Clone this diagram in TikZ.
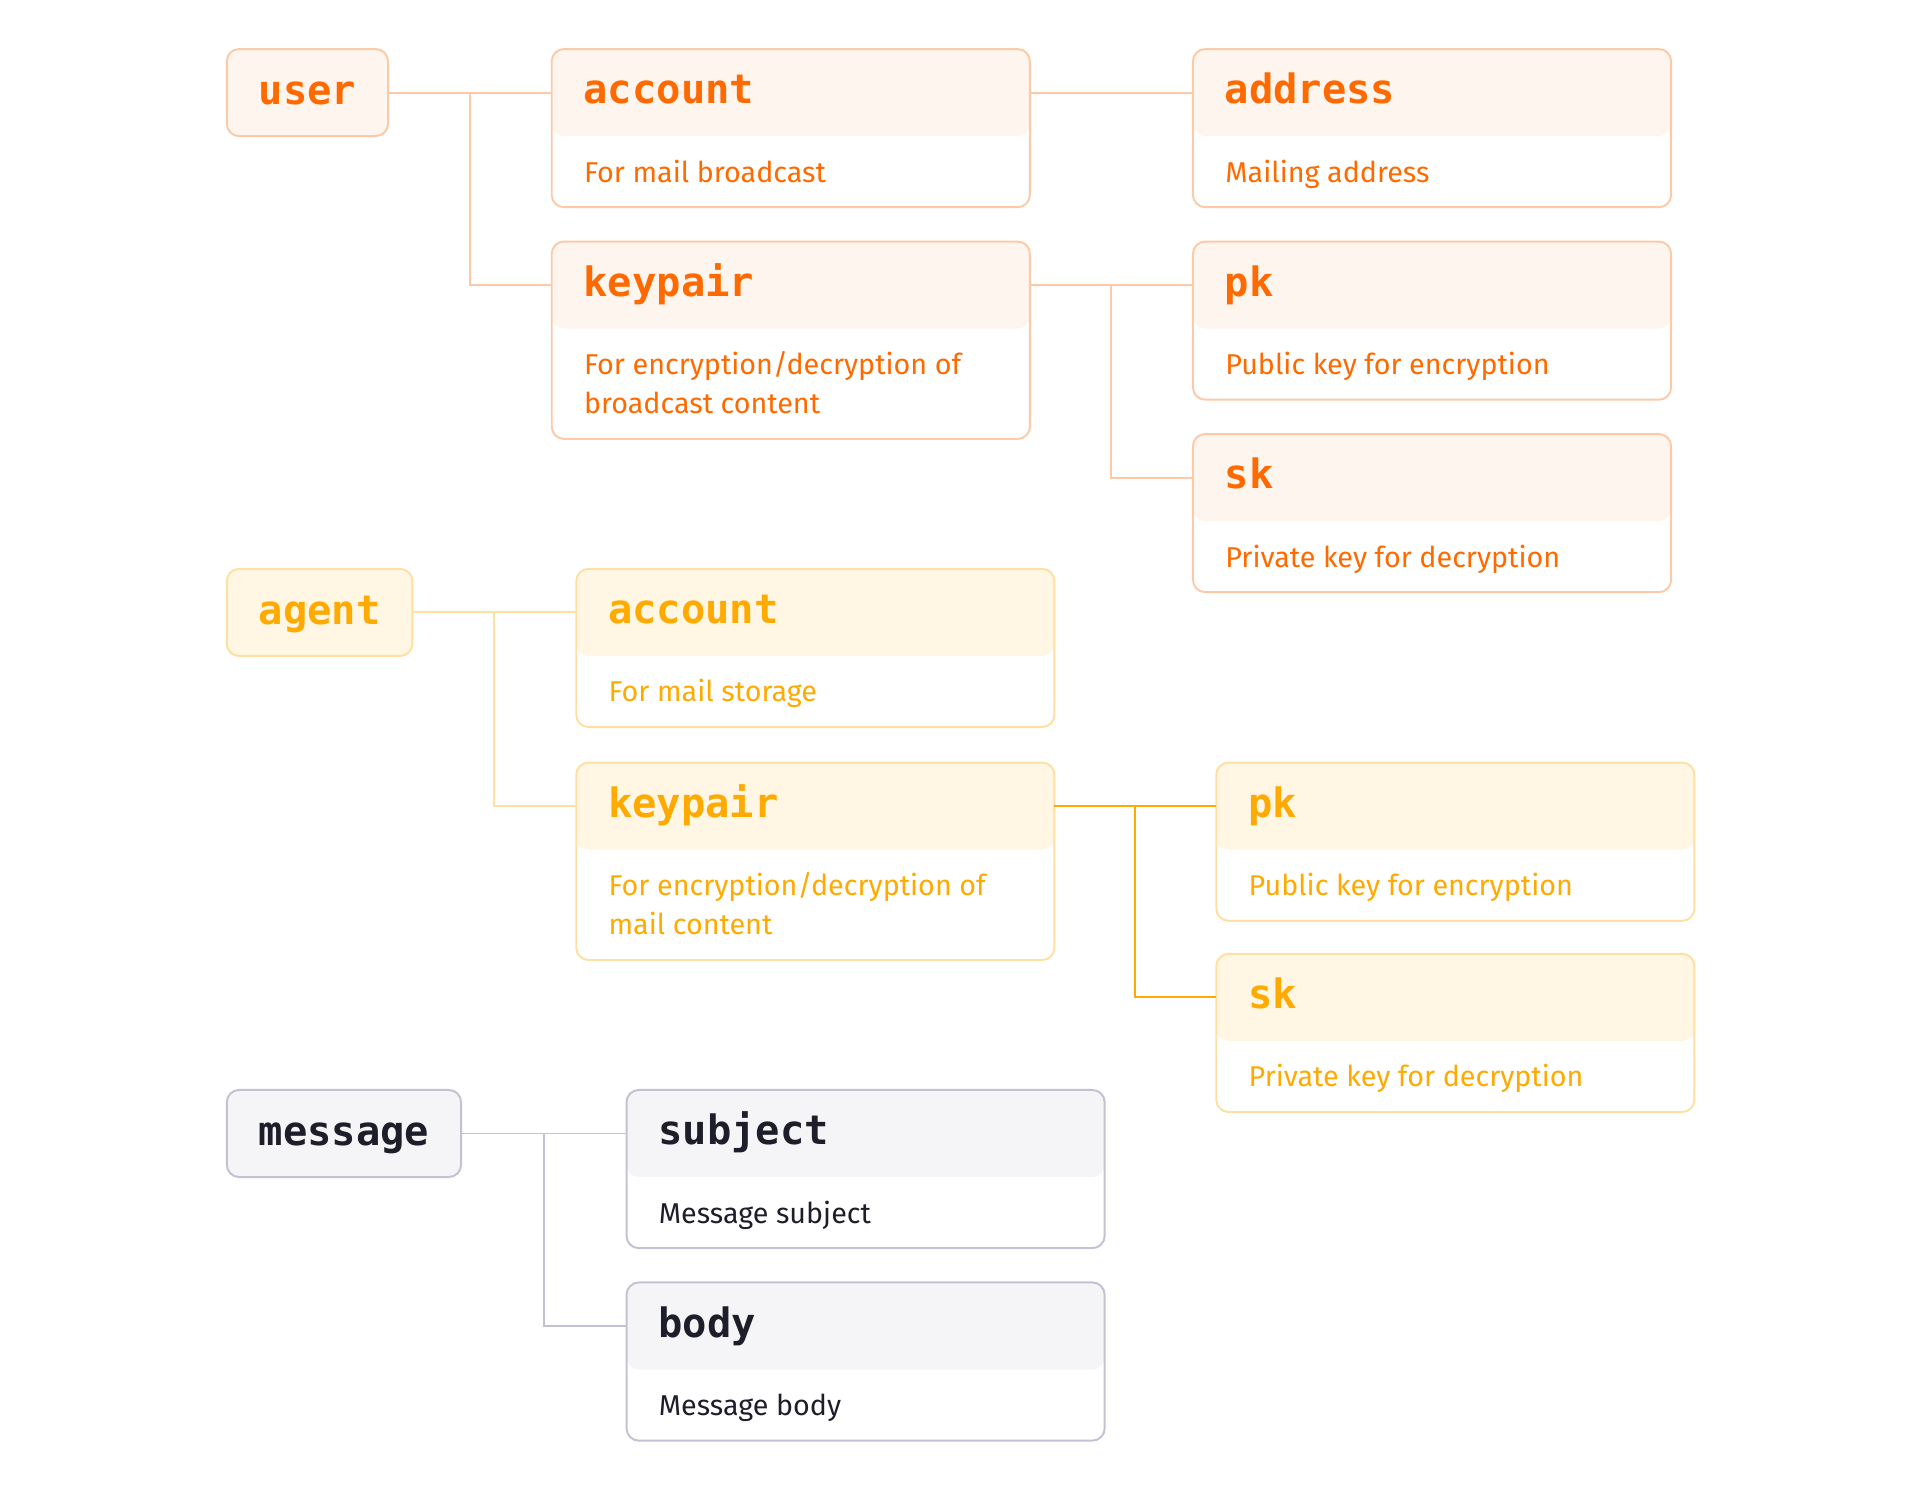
\documentclass[tikz,border=0pt]{standalone}
\usepackage{fontspec}
\setmainfont{Fira Sans}
\newfontfamily\codefont{DejaVu Sans Mono}
\usetikzlibrary{calc}

\newcommand\hdrfont{\codefont\bfseries\fontsize{16.5}{18}\selectfont}
\newcommand\txtfont{\fontsize{11.7}{16}\selectfont}

\definecolor{uTx}{HTML}{FF6A00}
\definecolor{uLn}{HTML}{FDCAA8}
\definecolor{uBg}{HTML}{FFF5EF}
\definecolor{aTx}{HTML}{FFAA00}
\definecolor{aLn}{HTML}{FFE0A0}
\definecolor{aBg}{HTML}{FFF6E3}
\definecolor{mTx}{HTML}{1E1E2B}
\definecolor{mLn}{HTML}{C3C1D3}
\definecolor{mBg}{HTML}{F5F5F8}

\tikzset{
  box/.style={draw, line width=0.8pt, rounded corners=5pt, outer sep=0pt},
  grp/.style={box, anchor=north west, minimum height=35.5pt, inner xsep=13pt, inner ysep=0pt,
    text height=12.5pt, text depth=2.5pt, font=\hdrfont},
  card/.style={box, anchor=north west, minimum width=195pt, minimum height=64.5pt, inner sep=0pt,
    path picture={\fill[#1] (path picture bounding box.north west) rectangle ([yshift=-35.5pt]path picture bounding box.north east);}},
  tall/.style={minimum height=80.5pt},
  title/.style={anchor=north west, outer sep=0pt, minimum height=35.5pt, text width=169pt,
    inner xsep=13pt, inner ysep=0pt, align=left, text height=12pt, text depth=3pt, font=\hdrfont},
  desc/.style={anchor=base west, inner sep=0pt, font=\txtfont},
  link/.style={line width=0.8pt},
  % user
  ugrp/.style={grp, draw=uLn, fill=uBg, text=uTx},
  ucard/.style={card=uBg, draw=uLn},
  utitle/.style={title, text=uTx},
  udesc/.style={desc, text=uTx},
  ulink/.style={link, draw=uLn},
  % agent
  agrp/.style={grp, draw=aLn, fill=aBg, text=aTx},
  acard/.style={card=aBg, draw=aLn},
  atitle/.style={title, text=aTx},
  adesc/.style={desc, text=aTx},
  alink/.style={link, draw=aLn},
  astrong/.style={link, draw=aTx},
  % message
  mgrp/.style={grp, draw=mLn, fill=mBg, text=mTx},
  mcard/.style={card=mBg, draw=mLn},
  mtitle/.style={title, text=mTx},
  mdesc/.style={desc, text=mTx},
  mlink/.style={link, draw=mLn},
}

\begin{document}
\begin{tikzpicture}[x=0.5pt, y=-0.5pt]
	\useasboundingbox (0,0) rectangle (1566,1214);

	% user
	\node[ugrp] (user) at (185,40) {user};
	\node[ucard] (uacc) at (450,40) {};
	\node[utitle] (uacc-t) at (uacc.north west) {account};
	\node[udesc] (uacc-d) at ([xshift=13pt,yshift=-54.25pt]uacc.north west) {For mail broadcast};
	\node[ucard] (uaddr) at (973,40) {};
	\node[utitle] (uaddr-t) at (uaddr.north west) {address};
	\node[udesc] (uaddr-d) at ([xshift=13pt,yshift=-54.25pt]uaddr.north west) {Mailing address};
	\node[ucard, tall] (ukey) at (450,197) {};
	\node[utitle] (ukey-t) at (ukey.north west) {keypair};
	\node[udesc] (ukey-d) at ([xshift=13pt,yshift=-54.25pt]ukey.north west)
		{\parbox[t]{169pt}{For encryption/decryption of\\broadcast content}};
	\node[ucard] (upk) at (973,197) {};
	\node[utitle] (upk-t) at (upk.north west) {pk};
	\node[udesc] (upk-d) at ([xshift=13pt,yshift=-54.25pt]upk.north west) {Public key for encryption};
	\node[ucard] (usk) at (973,354) {};
	\node[utitle] (usk-t) at (usk.north west) {sk};
	\node[udesc] (usk-d) at ([xshift=13pt,yshift=-54.25pt]usk.north west) {Private key for decryption};

	\draw[ulink] (user.east) -- (uacc-t.west);
	\draw[ulink] ($(user.east)!.5!(uacc-t.west)$) |- (ukey-t.west);
	\draw[ulink] (uacc-t.east) -- (uaddr-t.west);
	\draw[ulink] (ukey-t.east) -- (upk-t.west);
	\draw[ulink] ($(ukey-t.east)!.5!(upk-t.west)$) |- (usk-t.west);

	% agent
	\node[agrp] (agent) at (185,464) {agent};
	\node[acard] (aacc) at (470,464) {};
	\node[atitle] (aacc-t) at (aacc.north west) {account};
	\node[adesc] (aacc-d) at ([xshift=13pt,yshift=-54.25pt]aacc.north west) {For mail storage};
	\node[acard, tall] (akey) at (470,622) {};
	\node[atitle] (akey-t) at (akey.north west) {keypair};
	\node[adesc] (akey-d) at ([xshift=13pt,yshift=-54.25pt]akey.north west)
		{\parbox[t]{169pt}{For encryption/decryption of\\mail content}};
	\node[acard] (apk) at (992,622) {};
	\node[atitle] (apk-t) at (apk.north west) {pk};
	\node[adesc] (apk-d) at ([xshift=13pt,yshift=-54.25pt]apk.north west) {Public key for encryption};
	\node[acard] (ask) at (992,778) {};
	\node[atitle] (ask-t) at (ask.north west) {sk};
	\node[adesc] (ask-d) at ([xshift=13pt,yshift=-54.25pt]ask.north west) {Private key for decryption};

	\draw[alink] (agent.east) -- (aacc-t.west);
	\draw[alink] ($(agent.east)!.5!(aacc-t.west)$) |- (akey-t.west);
	\draw[astrong] (akey-t.east) -- (apk-t.west);
	\draw[astrong] ($(akey-t.east)!.5!(apk-t.west)$) |- (ask-t.west);

	% message
	\node[mgrp] (msg) at (185,889) {message};
	\node[mcard] (msubj) at (511,889) {};
	\node[mtitle] (msubj-t) at (msubj.north west) {subject};
	\node[mdesc] (msubj-d) at ([xshift=13pt,yshift=-54.25pt]msubj.north west) {Message subject};
	\node[mcard] (mbody) at (511,1046) {};
	\node[mtitle] (mbody-t) at (mbody.north west) {body};
	\node[mdesc] (mbody-d) at ([xshift=13pt,yshift=-54.25pt]mbody.north west) {Message body};

	\draw[mlink] (msg.east) -- (msubj-t.west);
	\draw[mlink] ($(msg.east)!.5!(msubj-t.west)$) |- (mbody-t.west);
\end{tikzpicture}
\end{document}
